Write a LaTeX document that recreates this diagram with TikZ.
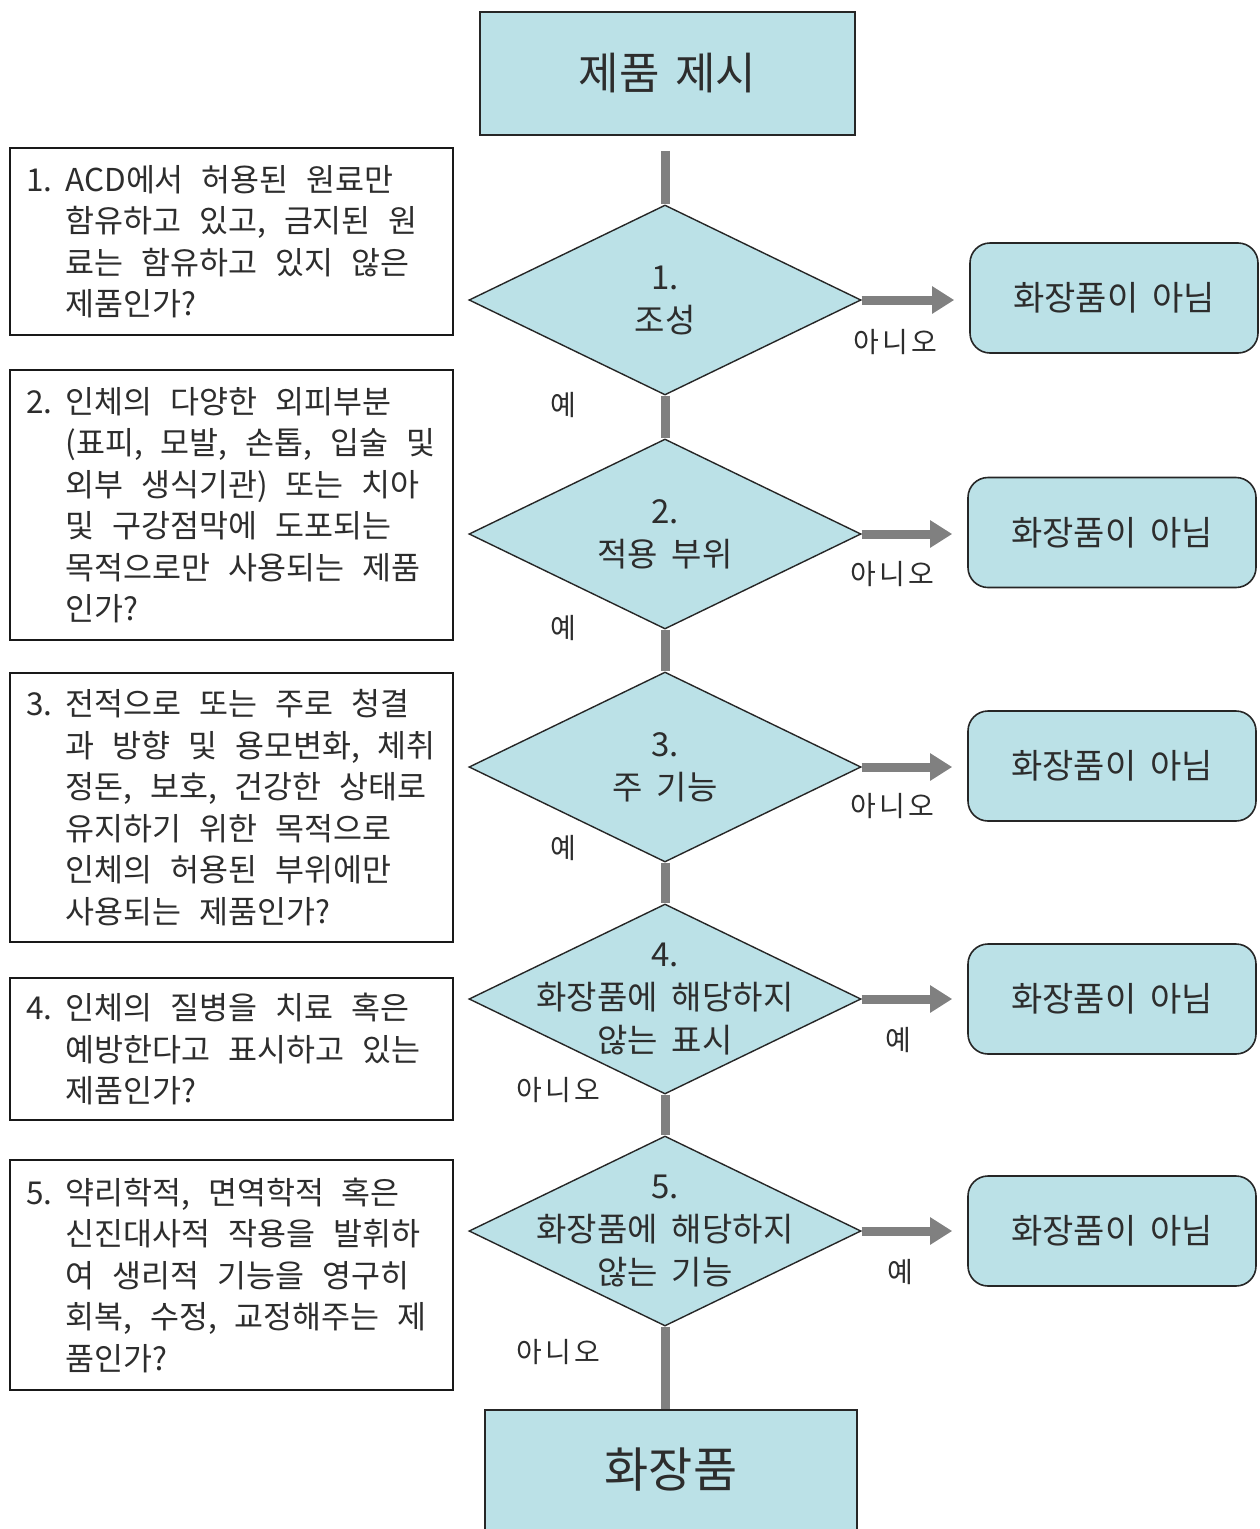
\documentclass[tikz,border=0pt]{standalone}
\usepackage{fontspec}
\newfontfamily\kr{Noto Sans CJK KR}
\newfontfamily\krl[LetterSpace=12]{Noto Sans CJK KR}
\usetikzlibrary{shapes.geometric,arrows.meta,backgrounds}
\newcommand{\spgap}[1]{\spaceskip #1pt\relax}
\definecolor{cyanfill}{RGB}{187,225,231}
\definecolor{conngray}{RGB}{128,128,128}
\definecolor{txt}{RGB}{45,45,45}
\begin{document}
\begin{tikzpicture}[x=1pt,y=-1pt,
  endbox/.style={draw=black!85, line width=1.6pt, fill=cyanfill, inner sep=0pt, text=txt},
  dia/.style={diamond, draw=black!85, line width=1.4pt, fill=cyanfill, inner sep=0pt,
    minimum width=392pt, minimum height=190pt},
  diatext/.style={align=center, font=\kr\fontsize{33}{43}\selectfont\spgap{14}, text=txt},
  nobox/.style={draw=black!85, line width=1.6pt, fill=cyanfill, rounded corners=20pt,
    minimum width=288pt, minimum height=110pt, inner sep=0pt,
    font=\kr\fontsize{34}{34}\selectfont\spgap{14}, text=txt},
  qbox/.style={draw=black!90, line width=1.6pt, minimum width=443pt, inner sep=0pt},
  qtext/.style={anchor=west, align=left, inner sep=0pt, text=txt,
    font=\kr\fontsize{31.5}{41.5}\selectfont\spgap{18}},
  conn/.style={draw=conngray, line width=9pt},
  arr/.style={conn, -{Triangle[length=22pt,width=26pt]}, shorten >=15pt},
  lbl/.style={font=\krl\fontsize{28}{28}\selectfont, text=txt, inner sep=0pt}
]
\useasboundingbox (0,0) rectangle (1260,1529);

% main column
\node[endbox, minimum width=375pt, minimum height=123pt,
  font=\kr\fontsize{44}{44}\selectfont\spgap{16}] (start) at (667.5,73.5) {제품 제시};
\node[dia] (d1) at (665,300) {};
\node[diatext] (t1) at (d1) {1.\\조성};
\node[dia] (d2) at (665,534) {};
\node[diatext] (t2) at (d2) {2.\\적용 부위};
\node[dia] (d3) at (665,767) {};
\node[diatext] (t3) at (d3) {3.\\주 기능};
\node[dia] (d4) at (665,999) {};
\node[diatext] (t4) at (d4) {4.\\화장품에 해당하지\\않는 표시};
\node[dia] (d5) at (665,1231) {};
\node[diatext] (t5) at (d5) {5.\\화장품에 해당하지\\않는 기능};
\node[endbox, minimum width=372pt, minimum height=120pt,
  font=\kr\fontsize{48}{48}\selectfont] (fin) at (671,1470) {화장품};

% right boxes
\node[nobox] (n1) at (1114,298) {화장품이 아님};
\node[nobox] (n2) at (1112,532.5) {화장품이 아님};
\node[nobox] (n3) at (1112,766) {화장품이 아님};
\node[nobox] (n4) at (1112,999) {화장품이 아님};
\node[nobox] (n5) at (1112,1231) {화장품이 아님};

% connectors
\begin{scope}[on background layer]
\fill[white] (0,0) rectangle (1260,1529);
\draw[conn, shorten <=15pt] (start.south -| d1.north) -- (d1.north);
\draw[conn] (d1.south) -- (d2.north);
\draw[conn] (d2.south) -- (d3.north);
\draw[conn] (d3.south) -- (d4.north);
\draw[conn] (d4.south) -- (d5.north);
\draw[conn] (d5.south) -- (d5.south |- fin.north);
\draw[arr] (d1.east) -- (n1.west |- d1.east);
\draw[arr] (d2.east) -- (n2.west |- d2.east);
\draw[arr] (d3.east) -- (n3.west |- d3.east);
\draw[arr] (d4.east) -- (n4.west |- d4.east);
\draw[arr] (d5.east) -- (n5.west |- d5.east);
\end{scope}

% branch labels
\node[lbl] (l1n) at (895,342) {아니오};
\node[lbl] (l2n) at (892,574) {아니오};
\node[lbl] (l3n) at (892,806) {아니오};
\node[lbl] (l1y) at (563,405) {예};
\node[lbl] (l2y) at (563,628) {예};
\node[lbl] (l3y) at (563,848) {예};
\node[lbl] (l4y) at (898,1040) {예};
\node[lbl] (l5y) at (900,1272) {예};
\node[lbl] (l4n) at (558,1090) {아니오};
\node[lbl] (l5n) at (558,1352) {아니오};

% question boxes
\node[qbox, minimum height=187pt] (q1) at (231.5,241.5) {};
\node[qtext] (q1t) at ([xshift=17pt]q1.west) {%
\makebox[39pt][l]{1.}ACD에서 허용된 원료만\\
\hspace*{39pt}함유하고 있고, 금지된 원\\
\hspace*{39pt}료는 함유하고 있지 않은\\
\hspace*{39pt}제품인가?};

\node[qbox, minimum height=270pt] (q2) at (231.5,505) {};
\node[qtext] (q2t) at ([xshift=17pt]q2.west) {%
\makebox[39pt][l]{2.}인체의 다양한 외피부분\\
\hspace*{39pt}(표피, 모발, 손톱, 입술 및\\
\hspace*{39pt}외부 생식기관) 또는 치아\\
\hspace*{39pt}및 구강점막에 도포되는\\
\hspace*{39pt}목적으로만 사용되는 제품\\
\hspace*{39pt}인가?};

\node[qbox, minimum height=269pt] (q3) at (231.5,807.5) {};
\node[qtext] (q3t) at ([xshift=17pt]q3.west) {%
\makebox[39pt][l]{3.}전적으로 또는 주로 청결\\
\hspace*{39pt}과 방향 및 용모변화, 체취\\
\hspace*{39pt}정돈, 보호, 건강한 상태로\\
\hspace*{39pt}유지하기 위한 목적으로\\
\hspace*{39pt}인체의 허용된 부위에만\\
\hspace*{39pt}사용되는 제품인가?};

\node[qbox, minimum height=142pt] (q4) at (231.5,1049) {};
\node[qtext] (q4t) at ([xshift=17pt]q4.west) {%
\makebox[39pt][l]{4.}인체의 질병을 치료 혹은\\
\hspace*{39pt}예방한다고 표시하고 있는\\
\hspace*{39pt}제품인가?};

\node[qbox, minimum height=230pt] (q5) at (231.5,1275) {};
\node[qtext] (q5t) at ([xshift=17pt]q5.west) {%
\makebox[39pt][l]{5.}약리학적, 면역학적 혹은\\
\hspace*{39pt}신진대사적 작용을 발휘하\\
\hspace*{39pt}여 생리적 기능을 영구히\\
\hspace*{39pt}회복, 수정, 교정해주는 제\\
\hspace*{39pt}품인가?};
\end{tikzpicture}
\end{document}
